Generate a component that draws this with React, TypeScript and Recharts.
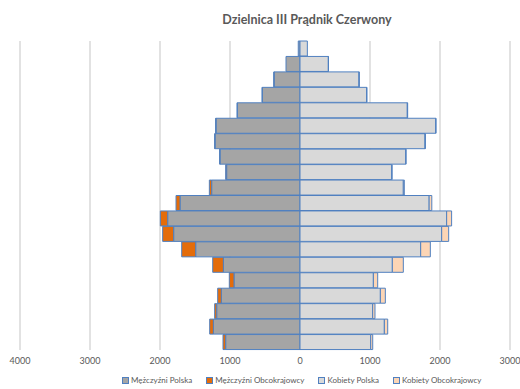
import React from 'react';
import {
  BarChart,
  Bar,
  XAxis,
  YAxis,
  CartesianGrid,
} from 'recharts';

// age groups, top row (oldest) first
const ageGroups = [
  '95+', '90-94', '85-89', '80-84', '75-79', '70-74', '65-69', '60-64', '55-59', '50-54',
  '45-49', '40-44', '35-39', '30-34', '25-29', '20-24', '15-19', '10-14', '5-9', '0-4',
];

const menPolska = [25, 200, 371, 538, 895, 1200, 1214, 1143, 1048, 1262, 1714, 1890, 1805, 1490, 1095, 943, 1124, 1190, 1238, 1062];
const menObcokrajowcy = [0, 0, 2, 3, 3, 5, 5, 5, 14, 33, 57, 105, 157, 200, 152, 67, 52, 29, 52, 38];
const womenPolska = [105, 405, 843, 952, 1533, 1938, 1786, 1510, 1310, 1476, 1845, 2095, 2024, 1724, 1319, 1048, 1148, 1038, 1205, 1010];
const womenObcokrajowcy = [0, 2, 3, 3, 5, 5, 5, 5, 5, 14, 38, 71, 100, 138, 157, 62, 71, 33, 48, 29];

const xTicks = [-4000, -3000, -2000, -1000, 0, 1000, 2000, 3000];

const FONT = 'Lato, "Open Sans", sans-serif';
const TEXT_COLOR = '#595959';
const BORDER = '#5080c0';

const series = [
  { key: 'mPL', name: 'Mężczyźni Polska', fill: '#a5a5a5' },
  { key: 'mOB', name: 'Mężczyźni Obcokrajowcy', fill: '#e46c0a' },
  { key: 'kPL', name: 'Kobiety Polska', fill: '#d9d9d9' },
  { key: 'kOB', name: 'Kobiety Obcokrajowcy', fill: '#fcd5b5' },
];

const data = ageGroups.map((age, i) => ({
  age,
  mPL: -menPolska[i],
  mOB: -menObcokrajowcy[i],
  kPL: womenPolska[i],
  kOB: womenObcokrajowcy[i],
}));

function LegendRow() {
  return (
    <div
      style={{
        position: 'absolute',
        top: 375,
        left: 122,
        display: 'flex',
        gap: 14,
        fontFamily: FONT,
        fontSize: 8,
        color: TEXT_COLOR,
        whiteSpace: 'nowrap',
      }}
    >
      {series.map((s) => (
        <div key={s.key} style={{ display: 'flex', alignItems: 'center', gap: 2 }}>
          <div
            style={{
              width: 5,
              height: 5,
              background: s.fill,
              border: `1px solid ${BORDER}`,
            }}
          />
          <span>{s.name}</span>
        </div>
      ))}
    </div>
  );
}

export default function App() {
  return (
    <div style={{ position: 'absolute', left: 0, top: 0, width: 520, height: 389, background: '#fff' }}>
      <div
        style={{
          position: 'absolute',
          top: 12,
          left: 0,
          width: 520,
          paddingLeft: 94,
          boxSizing: 'border-box',
          textAlign: 'center',
          fontFamily: FONT,
          fontWeight: 700,
          fontSize: 12.5,
          color: TEXT_COLOR,
        }}
      >
        Dzielnica III Prądnik Czerwony
      </div>
      <BarChart
        width={520}
        height={389}
        data={data}
        layout="vertical"
        stackOffset="sign"
        barCategoryGap={0}
        margin={{ top: 41, right: 10, left: 20, bottom: 0 }}
      >
        <CartesianGrid horizontal={false} stroke="#d9d9d9" strokeWidth={1.5} />
        <XAxis
          type="number"
          domain={[-4000, 3000]}
          ticks={xTicks}
          height={39}
          axisLine={false}
          tickLine={false}
          tickFormatter={(v: number) => String(Math.abs(v))}
          tick={{ fontSize: 9, fill: TEXT_COLOR, fontFamily: FONT }}
          interval={0}
        />
        <YAxis type="category" dataKey="age" hide />
        {series.map((s) => (
          <Bar
            key={s.key}
            dataKey={s.key}
            name={s.name}
            stackId="a"
            fill={s.fill}
            stroke={BORDER}
            strokeWidth={1}
            isAnimationActive={false}
          />
        ))}
      </BarChart>
      <LegendRow />
    </div>
  );
}
